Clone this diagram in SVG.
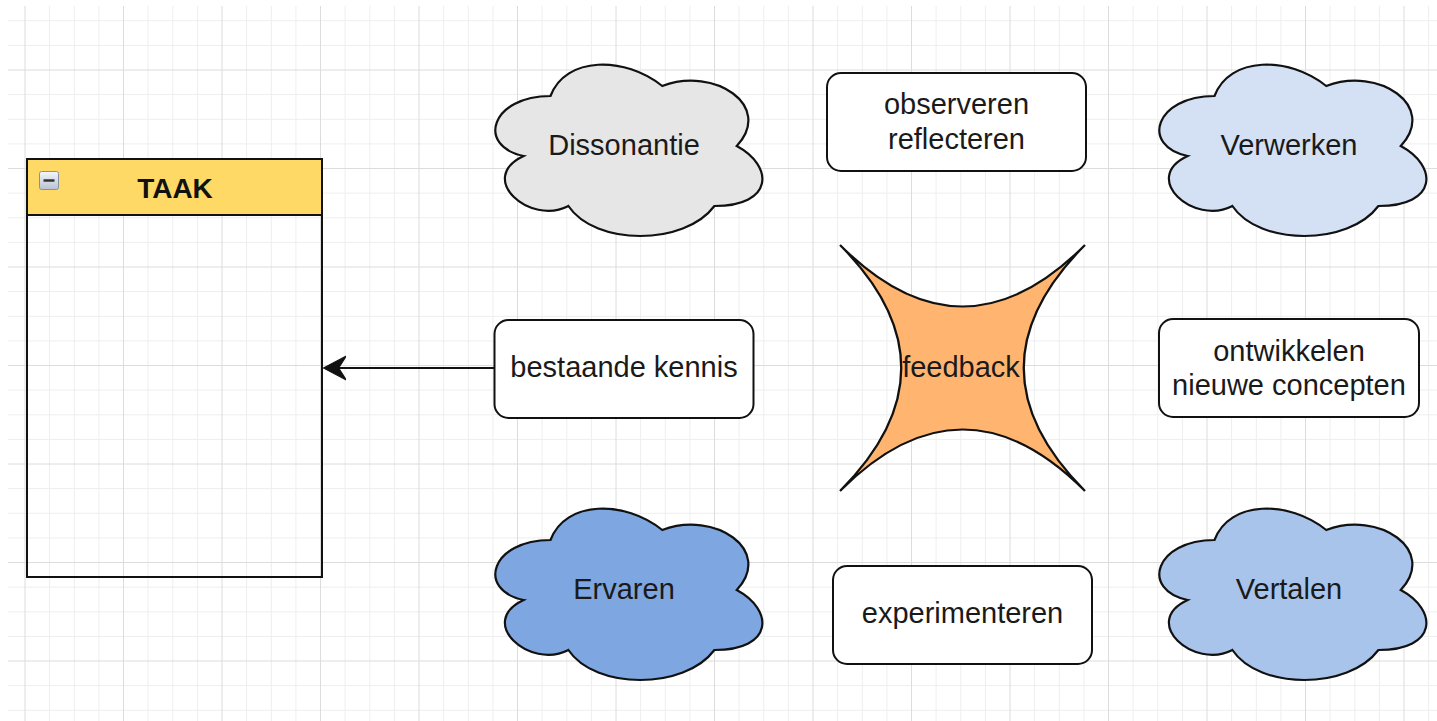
<svg xmlns="http://www.w3.org/2000/svg" width="1437" height="721" viewBox="0 0 1437 721">
<style>
.minor{stroke:#eeeeee;stroke-width:1;fill:none}
.major{stroke:#dcdcdc;stroke-width:1;fill:none}
.shape{stroke:#111;stroke-width:2.2}
.box{fill:#fff;stroke:#111;stroke-width:2}
.lbl{font-family:"Liberation Sans",Arial,sans-serif;font-size:29px;fill:#1a1a1a;text-anchor:middle}
.title{font-family:"Liberation Sans",Arial,sans-serif;font-size:28px;font-weight:bold;fill:#111;text-anchor:middle}
.edge{stroke:#111;stroke-width:2;fill:none}
</style>
<defs>
<path id="cloud" d="M74.5,50 C14.9,50 0,100 47.68,110 C0,132 53.64,180 92.38,160 C119.2,200 208.6,200 238.4,160 C298,160 298,120 260.75,100 C298,60 238.4,20 186.25,40 C149,10 89.4,10 74.5,50 Z"/>
<marker id="arrow" markerUnits="userSpaceOnUse" markerWidth="24" markerHeight="26" viewBox="0 -12 22 24" refX="15" refY="0" orient="auto">
<path d="M0,-11 L21,0 L0,11 L7,0 Z" fill="#111" stroke="#111" stroke-width="1"/>
</marker>
<linearGradient id="ico" x1="0" y1="0" x2="0" y2="1">
<stop offset="0" stop-color="#f4f6fa"/>
<stop offset="1" stop-color="#b9c2d2"/>
</linearGradient>
</defs>
<rect x="0" y="0" width="1437" height="721" fill="#fff"/>
<g id="grid">
<path class="minor" d="M49.6,6V721M74.3,6V721M98.9,6V721M148.1,6V721M172.8,6V721M197.4,6V721M246.6,6V721M271.3,6V721M295.9,6V721M345.1,6V721M369.8,6V721M394.4,6V721M443.6,6V721M468.3,6V721M492.9,6V721M542.1,6V721M566.8,6V721M591.4,6V721M640.6,6V721M665.3,6V721M689.9,6V721M739.1,6V721M763.8,6V721M788.4,6V721M837.6,6V721M862.3,6V721M886.9,6V721M936.1,6V721M960.8,6V721M985.4,6V721M1034.6,6V721M1059.3,6V721M1083.9,6V721M1133.1,6V721M1157.8,6V721M1182.4,6V721M1231.6,6V721M1256.3,6V721M1280.9,6V721M1330.1,6V721M1354.8,6V721M1379.4,6V721M1428.6,6V721
M8,20.75H1437M8,45.4H1437M8,94.6H1437M8,119.3H1437M8,143.9H1437M8,193.1H1437M8,217.8H1437M8,242.4H1437M8,291.6H1437M8,316.3H1437M8,340.9H1437M8,390.1H1437M8,414.8H1437M8,439.4H1437M8,488.6H1437M8,513.3H1437M8,537.9H1437M8,587.1H1437M8,611.8H1437M8,636.4H1437M8,685.6H1437M8,710.3H1437"/>
<path class="major" d="M25,6V721M123.5,6V721M222,6V721M320.5,6V721M419,6V721M517.5,6V721M616,6V721M714.5,6V721M813,6V721M911.5,6V721M1010,6V721M1108.5,6V721M1207,6V721M1305.5,6V721M1404,6V721
M8,70H1437M8,168.5H1437M8,267H1437M8,365.5H1437M8,464H1437M8,562.5H1437M8,661H1437"/>
</g>
<g id="connectors">
<line class="edge" x1="494" y1="368" x2="330" y2="368" marker-end="url(#arrow)"/>
</g>
<g id="taak">
<rect x="27" y="159" width="295" height="418" fill="none" stroke="#111" stroke-width="2"/>
<rect x="27" y="159" width="295" height="56" fill="#FFD966" stroke="#111" stroke-width="2"/>
<rect x="39.5" y="171.5" width="19" height="18" rx="2" fill="url(#ico)" stroke="#8691a5" stroke-width="1"/>
<line x1="43.5" y1="180.5" x2="54.5" y2="180.5" stroke="#333" stroke-width="2.5"/>
<text class="title" x="175" y="198">TAAK</text>
</g>
<g id="dissonantie">
<use href="#cloud" x="476" y="46" fill="#E6E6E6" class="shape"/>
<text class="lbl" x="624" y="155">Dissonantie</text>
</g>
<g id="observeren">
<rect class="box" x="827" y="73" width="259" height="98" rx="14"/>
<text class="lbl" x="956.5" y="114">observeren</text>
<text class="lbl" x="956.5" y="149">reflecteren</text>
</g>
<g id="verwerken">
<use href="#cloud" x="1140" y="46" fill="#D4E1F5" class="shape"/>
<text class="lbl" x="1289" y="155">Verwerken</text>
</g>
<g id="bestaande">
<rect class="box" x="494.5" y="320" width="259" height="98" rx="14"/>
<text class="lbl" x="624" y="377">bestaande kennis</text>
</g>
<g id="feedback">
<path class="shape" fill="#FFB570" d="M840,245 Q962.5,368 1085,245 Q962.5,368 1085,491 Q962.5,368 840,491 Q962.5,368 840,245 Z"/>
<text class="lbl" x="961" y="377">feedback</text>
</g>
<g id="ontwikkelen">
<rect class="box" x="1159" y="319" width="260" height="98" rx="14"/>
<text class="lbl" x="1289" y="361">ontwikkelen</text>
<text class="lbl" x="1289" y="395">nieuwe concepten</text>
</g>
<g id="ervaren">
<use href="#cloud" x="476" y="490" fill="#7EA6E0" class="shape"/>
<text class="lbl" x="624" y="599">Ervaren</text>
</g>
<g id="experimenteren">
<rect class="box" x="833" y="566" width="259" height="98" rx="14"/>
<text class="lbl" x="962.5" y="623">experimenteren</text>
</g>
<g id="vertalen">
<use href="#cloud" x="1140" y="490" fill="#A9C4EB" class="shape"/>
<text class="lbl" x="1289" y="599">Vertalen</text>
</g>
</svg>
